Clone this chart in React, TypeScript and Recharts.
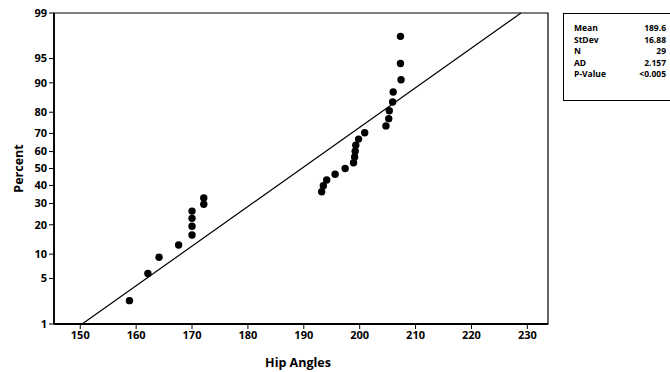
import React from 'react';
import { ScatterChart, Scatter, XAxis, YAxis, ReferenceLine, ReferenceArea, Label } from 'recharts';

// Data
const hipAngles = [158.8, 162.1, 164.1, 167.6, 170.0, 170.0, 170.0, 170.0, 172.1, 172.1, 193.2, 193.5, 194.1, 195.6, 197.4, 198.9, 199.1, 199.2, 199.3, 199.8, 200.9, 204.7, 205.2, 205.3, 205.9, 206.0, 207.4, 207.3, 207.3];
const percents = [2.4, 5.8, 9.2, 12.6, 16.0, 19.4, 22.8, 26.2, 29.6, 33.0, 36.4, 39.8, 43.2, 46.6, 50.0, 53.4, 56.8, 60.2, 63.6, 67.0, 70.4, 73.8, 77.2, 80.6, 84.0, 87.4, 90.8, 94.2, 97.6];
const xTicks = [150, 160, 170, 180, 190, 200, 210, 220, 230];
const yTickPercents = [1, 5, 10, 20, 30, 40, 50, 60, 70, 80, 90, 95, 99];
const statLabels = ['Mean', 'StDev', 'N', 'AD', 'P-Value'];
const statValues = ['189.6', '16.88', '29', '2.157', '<0.005'];
const fitMean = 189.6;
const fitStDev = 16.88;
const xDomain = [145.3, 233.7];

// Normal probability scale (inverse standard normal CDF, Acklam)
function probit(pct: number): number {
  const p = pct / 100;
  const a = [-39.69683028665376, 220.9460984245205, -275.9285104469687, 138.357751867269, -30.66479806614716, 2.506628277459239];
  const b = [-54.47609879822406, 161.5858368580409, -155.6989798598866, 66.80131188771972, -13.28068155288572];
  const c = [-0.007784894002430293, -0.3223964580411365, -2.400758277161838, -2.549732539343734, 4.374664141464968, 2.938163982698783];
  const d = [0.007784695709041462, 0.3224671290700398, 2.445134137142996, 3.754408661907416];
  const pl = 0.02425;
  if (p < pl) {
    const q = Math.sqrt(-2 * Math.log(p));
    return (((((c[0] * q + c[1]) * q + c[2]) * q + c[3]) * q + c[4]) * q + c[5]) / ((((d[0] * q + d[1]) * q + d[2]) * q + d[3]) * q + 1);
  }
  if (p > 1 - pl) {
    const q = Math.sqrt(-2 * Math.log(1 - p));
    return -(((((c[0] * q + c[1]) * q + c[2]) * q + c[3]) * q + c[4]) * q + c[5]) / ((((d[0] * q + d[1]) * q + d[2]) * q + d[3]) * q + 1);
  }
  const q = p - 0.5;
  const r = q * q;
  return (((((a[0] * r + a[1]) * r + a[2]) * r + a[3]) * r + a[4]) * r + a[5]) * q / (((((b[0] * r + b[1]) * r + b[2]) * r + b[3]) * r + b[4]) * r + 1);
}

const points = hipAngles.map((x, i) => ({ x, z: probit(percents[i]) }));
const yTicks = yTickPercents.map(probit);
const zMin = probit(yTickPercents[0]);
const zMax = probit(yTickPercents[yTickPercents.length - 1]);
const yTickLabel = (v: number) => {
  let best = yTickPercents[0];
  let bd = Infinity;
  yTickPercents.forEach((p) => {
    const d = Math.abs(probit(p) - v);
    if (d < bd) { bd = d; best = p; }
  });
  return String(best);
};

const FONT = '"Open Sans", "DejaVu Sans", sans-serif';
const tickStyle = { fill: '#000', fontSize: 11, fontWeight: 700, fontFamily: FONT };

const Dot = (props: any) => <circle cx={props.cx} cy={props.cy} r={3.7} fill="#000" />;

export default function App() {
  return (
    <div style={{ position: 'absolute', left: 0, top: 0, width: 670, height: 372, background: '#fff', fontFamily: FONT, overflow: 'hidden' }}>
      <ScatterChart width={670} height={372} margin={{ top: 13, right: 122, left: 0, bottom: 0 }}>
        <XAxis
          type="number"
          dataKey="x"
          domain={xDomain}
          ticks={xTicks}
          allowDataOverflow
          height={48}
          tickSize={5}
          tickMargin={2}
          tick={tickStyle}
          axisLine={{ stroke: '#000', strokeWidth: 1.8 }}
          tickLine={{ stroke: '#000' }}
        >
          <Label
            content={(p: any) => {
              const vb = p.viewBox;
              return (
                <text x={vb.x + vb.width / 2 - 3} y={367} textAnchor="middle" fontSize={12.5} fontWeight={700} fontFamily={FONT} fill="#000">
                  Hip Angles
                </text>
              );
            }}
          />
        </XAxis>
        <YAxis
          type="number"
          dataKey="z"
          domain={[zMin, zMax]}
          ticks={yTicks}
          allowDataOverflow
          width={54}
          tickSize={5}
          tickMargin={2}
          tick={tickStyle}
          tickFormatter={yTickLabel}
          interval={0}
          axisLine={{ stroke: '#000', strokeWidth: 1.8 }}
          tickLine={{ stroke: '#000' }}
        >
          <Label
            content={(p: any) => {
              const vb = p.viewBox;
              const cx = 18;
              const cy = vb.y + vb.height / 2;
              return (
                <text x={cx} y={cy} transform={`rotate(-90 ${cx} ${cy})`} textAnchor="middle" dominantBaseline="central" fontSize={12.5} fontWeight={700} fontFamily={FONT} fill="#000">
                  Percent
                </text>
              );
            }}
          />
        </YAxis>
        <ReferenceArea x1={xDomain[0]} x2={xDomain[1]} y1={zMin} y2={zMax} fill="none" stroke="#000" strokeWidth={1.2} />
        <ReferenceLine
          segment={[
            { x: fitMean + fitStDev * zMin, y: zMin },
            { x: fitMean + fitStDev * zMax, y: zMax },
          ]}
          stroke="#000"
          strokeWidth={1.2}
        />
        <Scatter data={points} shape={Dot} isAnimationActive={false} />
      </ScatterChart>
      <div
        style={{
          position: 'absolute',
          left: 563,
          top: 13,
          width: 115,
          height: 88,
          border: '1.3px solid #000',
          boxSizing: 'border-box',
          background: '#fff',
        }}
      >
        {statLabels.map((l, i) => (
          <div
            key={l}
            style={{
              position: 'absolute',
              left: 10,
              top: 9 + i * 11.5,
              width: 92,
              height: 10,
              display: 'flex',
              alignItems: 'center',
              justifyContent: 'space-between',
              fontSize: 8.5,
              fontWeight: 700,
              lineHeight: '10px',
              color: '#000',
            }}
          >
            <span style={{ lineHeight: '10px' }}>{l}</span>
            <span style={{ lineHeight: '10px' }}>{statValues[i]}</span>
          </div>
        ))}
      </div>
    </div>
  );
}
